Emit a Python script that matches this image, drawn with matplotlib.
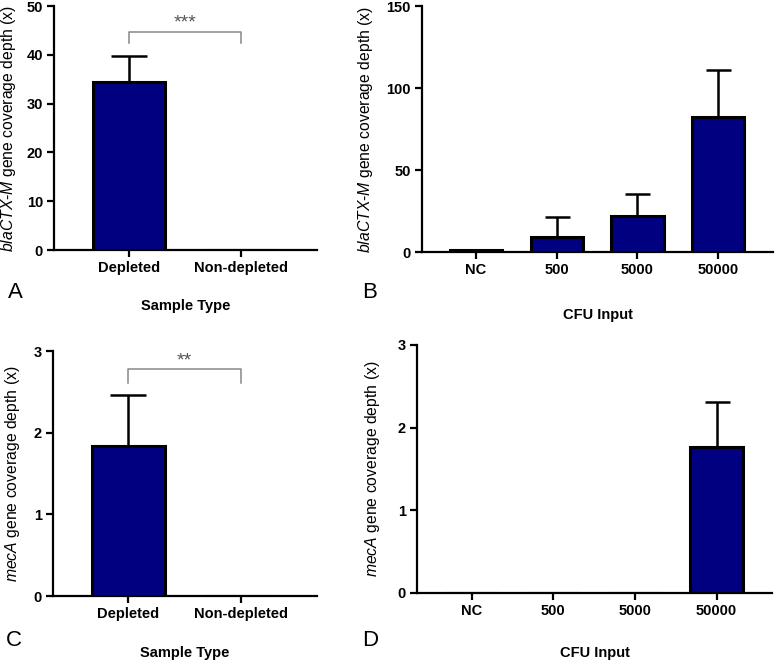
import matplotlib
matplotlib.use("Agg")
import matplotlib.pyplot as plt

plt.rcParams['font.family'] = ['Liberation Sans', 'DejaVu Sans']
plt.rcParams['mathtext.fontset'] = 'custom'
plt.rcParams['mathtext.it'] = 'Liberation Sans:italic'
plt.rcParams['mathtext.rm'] = 'Liberation Sans'

# ---- data ----
sample_types = ["Depleted", "Non-depleted"]
cfu_inputs = ["NC", "500", "5000", "50000"]

bla_sample_mean = [34.5, 0.0]
bla_sample_err = [5.3, 0.0]
bla_cfu_mean = [1.0, 9.0, 22.1, 82.1]
bla_cfu_err = [0.0, 12.5, 13.1, 29.0]

mec_sample_mean = [1.84, 0.0]
mec_sample_err = [0.62, 0.0]
mec_cfu_mean = [0.0, 0.0, 0.0, 1.77]
mec_cfu_err = [0.0, 0.0, 0.0, 0.54]

bla_ylabel = r"$\mathit{blaCTX}$-$\mathit{M}$ gene coverage depth (x)"
mec_ylabel = r"$\mathit{mecA}$ gene coverage depth (x)"

BAR_COLOR = "#000080"

W, H = 777, 663
fig = plt.figure(figsize=(W / 100, H / 100), dpi=100)


def px_axes(left, right, top, bottom):
    return fig.add_axes([left / W, 1 - bottom / H, (right - left) / W, (bottom - top) / H])


def draw(ax, cats, means, errs, ymax, yticks, ylabel, xlabel, capsize, xlabelpad, ylabx):
    x = list(range(len(cats)))
    ax.errorbar(x, means, yerr=[[0] * len(errs), errs], fmt='none', ecolor='black',
                elinewidth=1.8, capsize=capsize, capthick=1.8, zorder=2)
    ax.bar(x, means, width=0.65, color=BAR_COLOR, edgecolor='black', linewidth=2.2, zorder=3)
    ax.set_xlim(-0.67, len(cats) - 1 + 0.68)
    ax.set_ylim(0, ymax)
    ax.set_yticks(yticks)
    ax.set_xticks(x)
    ax.set_xticklabels(cats, fontsize=10.5, fontweight='bold')
    for lab in ax.get_yticklabels():
        lab.set_fontweight('bold')
        lab.set_fontsize(10.5)
    for s in ['top', 'right']:
        ax.spines[s].set_visible(False)
    for s in ['left', 'bottom']:
        ax.spines[s].set_linewidth(1.6)
    ax.tick_params(axis='both', direction='out', length=5, width=1.6, pad=3)
    ax.set_ylabel(ylabel, fontsize=11.3)
    ax.yaxis.set_label_coords(ylabx, 0.5)
    ax.set_xlabel(xlabel, fontsize=10.5, fontweight='bold', labelpad=xlabelpad)


axA = px_axes(54, 317, 6, 250)
axB = px_axes(422, 773, 6, 252)
axC = px_axes(53, 317, 351, 596)
axD = px_axes(417, 772, 345, 593)

draw(axA, sample_types, bla_sample_mean, bla_sample_err, 50, [0, 10, 20, 30, 40, 50],
     bla_ylabel, "Sample Type", 13, 17, -0.137)
draw(axB, cfu_inputs, bla_cfu_mean, bla_cfu_err, 150, [0, 50, 100, 150],
     bla_ylabel, "CFU Input", 9, 22, -0.134)
draw(axC, sample_types, mec_sample_mean, mec_sample_err, 3, [0, 1, 2, 3],
     mec_ylabel, "Sample Type", 13, 18, -0.117)
draw(axD, cfu_inputs, mec_cfu_mean, mec_cfu_err, 3, [0, 1, 2, 3],
     mec_ylabel, "CFU Input", 9, 20, -0.099)

# significance brackets
def bracket(ax, y, yleg, ytext, text):
    ax.plot([0, 0, 1, 1], [yleg, y, y, yleg], color='#888888', lw=1.1, clip_on=False, zorder=4)
    ax.text(0.5, ytext, text, ha='center', va='center', fontsize=14, color='#555555')

bracket(axA, 44.7, 42.4, 46.6, "***")
bracket(axC, 2.78, 2.61, 2.88, "**")

# panel letters
for lbl, xp, yp in [("A", 15, 293), ("B", 370, 293), ("C", 14, 641), ("D", 370, 640)]:
    fig.text(xp / W, 1 - yp / H, lbl, fontsize=16, ha='center', va='center')

fig.savefig("out.png", dpi=100)
